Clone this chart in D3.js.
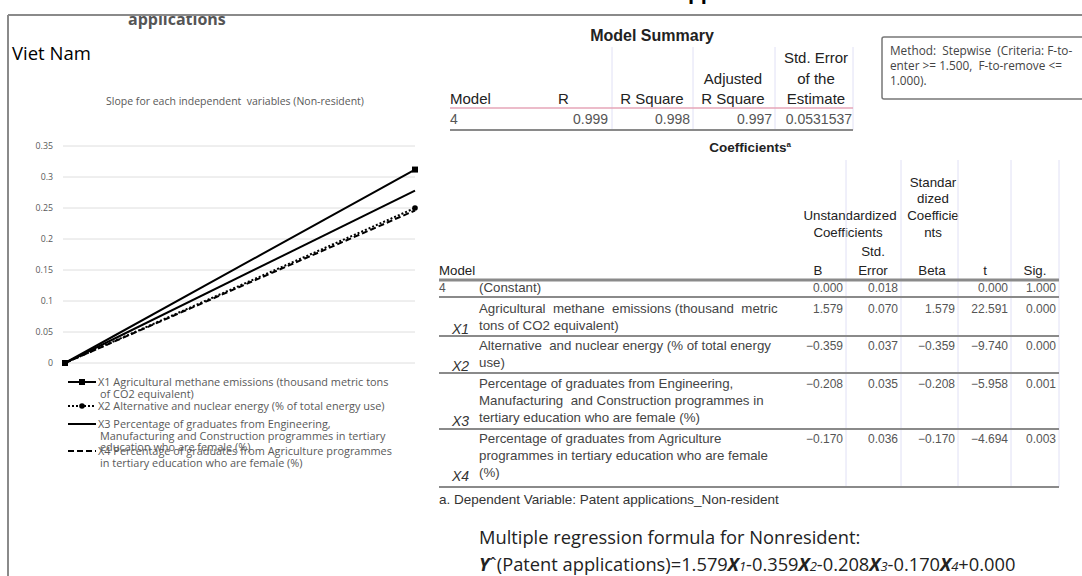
<!DOCTYPE html>
<html><head><meta charset="utf-8">
<script src="https://cdn.jsdelivr.net/npm/d3@7"></script>
<style>body{margin:0;background:#fff}svg{display:block}</style>
</head><body>
<svg id="c" width="1082" height="576"></svg>
<script>
// ---------------- DATA ----------------
const categories = ["start", "end"];
const x1Values = [0, 0.312];
const x2Values = [0, 0.250];
const x3Values = [0, 0.278];
const x4Values = [0, 0.246];
const yTicks = [0, 0.05, 0.1, 0.15, 0.2, 0.25, 0.3, 0.35];
const chartTitle = "Slope for each independent  variables (Non-resident)";
const legendLines = [
  ["X1 Agricultural methane emissions (thousand metric tons", "of CO2 equivalent)"],
  ["X2 Alternative and nuclear energy (% of total energy use)"],
  ["X3 Percentage of graduates from Engineering,", "Manufacturing and Construction programmes in tertiary", "education who are female (%)"],
  ["X4 Percentage of graduates from Agriculture programmes", "in tertiary education who are female (%)"]
];
const summaryHeader = ["Model", "R", "R Square", "Adjusted R Square", "Std. Error of the Estimate"];
const summaryValues = ["4", "0.999", "0.998", "0.997", "0.0531537"];
const methodLines = ["Method:  Stepwise  (Criteria: F-to-", "enter >= 1.500,  F-to-remove <=", "1.000)."];
const coefVarCodes = ["", "X1", "X2", "X3", "X4"];
const coefVarLines = [
  ["(Constant)"],
  ["Agricultural  methane  emissions (thousand  metric", "tons of CO2 equivalent)"],
  ["Alternative  and nuclear energy (% of total energy", "use)"],
  ["Percentage of graduates from Engineering,", "Manufacturing  and Construction programmes in", "tertiary education who are female (%)"],
  ["Percentage of graduates from Agriculture", "programmes in tertiary education who are female", "(%)"]
];
const coefB = ["0.000", "1.579", "\u22120.359", "\u22120.208", "\u22120.170"];
const coefSE = ["0.018", "0.070", "0.037", "0.035", "0.036"];
const coefBeta = ["", "1.579", "\u22120.359", "\u22120.208", "\u22120.170"];
const coefT = ["0.000", "22.591", "\u22129.740", "\u22125.958", "\u22124.694"];
const coefSig = ["1.000", "0.000", "0.000", "0.001", "0.003"];
const footnote = "a. Dependent Variable: Patent applications_Non-resident";
const formulaTitle = "Multiple regression formula for Nonresident:";
const formulaCoefs = ["1.579", "-0.359", "-0.208", "-0.170"];
const formulaConst = "+0.000";

// ---------------- DRAW ----------------
const svg = d3.select("#c");
const CAL = "'Open Sans', 'Noto Sans', sans-serif";
const ARL = "'Liberation Sans', Arial, sans-serif";

svg.append("defs").append("clipPath").attr("id", "below").append("rect")
  .attr("x", 0).attr("y", 16).attr("width", 1082).attr("height", 560);
svg.append("text").attr("x", 128).attr("y", 25).attr("clip-path", "url(#below)")
  .attr("font-family", CAL).attr("font-weight", "bold").attr("font-size", 16)
  .attr("fill", "#555").text("applications");
svg.append("text").attr("x", 676).attr("y", -1)
  .attr("font-family", CAL).attr("font-weight", "bold").attr("font-size", 20)
  .attr("fill", "#000").text("applications");

svg.append("line").attr("x1", 8).attr("x2", 1082).attr("y1", 15).attr("y2", 15)
  .attr("stroke", "#8a8a8a").attr("stroke-width", 2);
svg.append("line").attr("x1", 8).attr("x2", 8).attr("y1", 15).attr("y2", 576)
  .attr("stroke", "#8a8a8a").attr("stroke-width", 2);

svg.append("text").attr("x", 12).attr("y", 60).attr("font-family", CAL)
  .attr("font-size", 18.5).attr("fill", "#000").text("Viet Nam");

// ---- line chart ----
const x = d3.scalePoint().domain(categories).range([65, 415]);
const y = d3.scaleLinear().domain([0, 0.35]).range([363, 146]);

svg.append("text").attr("x", 235).attr("y", 105).attr("text-anchor", "middle")
  .attr("font-family", CAL).attr("font-size", 10.5).attr("fill", "#595959")
  .style("white-space", "pre").text(chartTitle);

const grid = svg.append("g");
grid.selectAll("line").data(yTicks).join("line")
  .attr("x1", 63).attr("x2", 415).attr("y1", d => y(d)).attr("y2", d => y(d))
  .attr("stroke", "#dedede").attr("stroke-width", 1);

const yAxis = svg.append("g").attr("transform", "translate(63,0)")
  .call(d3.axisLeft(y).tickValues(yTicks).tickSize(0).tickPadding(10)
    .tickFormat(d => String(+d.toFixed(2))));
yAxis.select(".domain").remove();
yAxis.selectAll("text").attr("font-family", CAL).attr("font-size", 8.8).attr("fill", "#595959");

const lineGen = d3.line().x((d, i) => x(categories[i])).y(d => y(d));
const series = [
  { vals: x4Values, dash: "6,3" },
  { vals: x2Values, dash: "2,2" },
  { vals: x3Values, dash: null },
  { vals: x1Values, dash: null }
];
series.forEach(s => {
  svg.append("path").attr("d", lineGen(s.vals)).attr("fill", "none")
    .attr("stroke", "#000").attr("stroke-width", 2)
    .attr("stroke-dasharray", s.dash);
});
svg.selectAll(".sq").data(x1Values).join("rect").attr("class", "sq")
  .attr("x", (d, i) => x(categories[i]) - 3).attr("y", d => y(d) - 3)
  .attr("width", 6).attr("height", 6).attr("fill", "#000");
svg.selectAll(".dot").data(x2Values).join("circle").attr("class", "dot")
  .attr("cx", (d, i) => x(categories[i])).attr("cy", d => y(d)).attr("r", 2.8).attr("fill", "#000");

// legend
const legY = [382, 406, 424, 451];
const legStyles = ["sq", "dot", "solid", "dash"];
legendLines.forEach((lines, k) => {
  const yy = legY[k];
  const g = svg.append("g");
  const st = legStyles[k];
  g.append("line").attr("x1", 68).attr("x2", 96).attr("y1", yy).attr("y2", yy)
    .attr("stroke", "#000").attr("stroke-width", 2)
    .attr("stroke-dasharray", st === "dot" ? "2,2" : st === "dash" ? "6,3" : null);
  if (st === "sq") g.append("rect").attr("x", 79).attr("y", yy - 3).attr("width", 6).attr("height", 6).attr("fill", "#000");
  if (st === "dot") g.append("circle").attr("cx", 82).attr("cy", yy).attr("r", 2.8).attr("fill", "#000");
  lines.forEach((t, j) => {
    g.append("text").attr("x", j === 0 ? 98 : 100).attr("y", yy + 4 + j * 11.5)
      .attr("font-family", CAL).attr("font-size", 10.9).attr("fill", "#595959").text(t);
  });
});

// ---- Model Summary ----
const ms = svg.append("g").attr("font-family", ARL).attr("fill", "#222");
ms.append("text").attr("x", 652).attr("y", 41).attr("text-anchor", "middle")
  .attr("font-weight", "bold").attr("font-size", 16).text("Model Summary");
[612, 693, 775, 853].forEach(xx => ms.append("line").attr("x1", xx).attr("x2", xx)
  .attr("y1", 47).attr("y2", 130).attr("stroke", "#e0e0f5").attr("stroke-width", 1));
ms.append("line").attr("x1", 450).attr("x2", 853).attr("y1", 108).attr("y2", 108)
  .attr("stroke", "#e6a6b8").attr("stroke-width", 1.5);
ms.append("line").attr("x1", 450).attr("x2", 853).attr("y1", 130).attr("y2", 130)
  .attr("stroke", "#8a8a8a").attr("stroke-width", 2);
const hs = 15;
ms.append("text").attr("x", 450).attr("y", 104).attr("font-size", hs).text(summaryHeader[0]);
ms.append("text").attr("x", 558).attr("y", 104).attr("font-size", hs).text(summaryHeader[1]);
ms.append("text").attr("x", 652).attr("y", 104).attr("text-anchor", "middle").attr("font-size", hs).text(summaryHeader[2]);
ms.append("text").attr("x", 733).attr("y", 84).attr("text-anchor", "middle").attr("font-size", hs).text("Adjusted");
ms.append("text").attr("x", 733).attr("y", 104).attr("text-anchor", "middle").attr("font-size", hs).text("R Square");
ms.append("text").attr("x", 816).attr("y", 63).attr("text-anchor", "middle").attr("font-size", hs).text("Std. Error");
ms.append("text").attr("x", 816).attr("y", 84).attr("text-anchor", "middle").attr("font-size", hs).text("of the");
ms.append("text").attr("x", 816).attr("y", 104).attr("text-anchor", "middle").attr("font-size", hs).text("Estimate");
const valX = [450, 608, 690, 772, 852];
summaryValues.forEach((v, i) => ms.append("text").attr("x", valX[i]).attr("y", 124)
  .attr("text-anchor", i === 0 ? "start" : "end").attr("font-size", 14).attr("fill", "#555").text(v));

// method box
svg.append("rect").attr("x", 882).attr("y", 37).attr("width", 215).attr("height", 62)
  .attr("fill", "#fff").attr("stroke", "#777").attr("stroke-width", 1.5).attr("rx", 2);
methodLines.forEach((t, i) => svg.append("text").attr("x", 890).attr("y", 55 + i * 15)
  .attr("font-family", CAL).attr("font-size", 11.8).attr("fill", "#444")
  .style("white-space", "pre").text(t));

// ---- Coefficients ----
const ct = svg.append("g").attr("font-family", ARL).attr("fill", "#222");
const title = ct.append("text").attr("x", 750).attr("y", 152).attr("text-anchor", "middle")
  .attr("font-weight", "bold").attr("font-size", 13.5);
title.append("tspan").text("Coefficients");
title.append("tspan").attr("font-size", 8).attr("dy", -5).text("a");

const colR = [846, 901, 958, 1011, 1059];
const tableL = 439, tableR = 1059;
const fs = 13.3;
const hdr = (t, xx, yy, anchor) => ct.append("text").attr("x", xx).attr("y", yy)
  .attr("text-anchor", anchor || "middle").attr("font-size", fs).text(t);
hdr("Standar", 933, 187); hdr("dized", 933, 203); hdr("Coefficie", 933, 220); hdr("nts", 933, 237);
hdr("Unstandardized", 850, 220);
hdr("Coefficients", 848, 237);
hdr("Std.", 873, 256); hdr("Error", 873, 275);
hdr("B", 818, 275); hdr("Beta", 932, 275); hdr("t", 985, 275); hdr("Sig.", 1035, 275);
hdr("Model", tableL, 275, "start");

const rowLineY = [[292], [313, 330], [350, 367], [388, 405, 422], [443, 460, 477]];
const sepY = [280, 297, 336, 373, 429, 487];
colR.forEach(xx => ct.append("line").attr("x1", xx).attr("x2", xx).attr("y1", 160).attr("y2", 487)
  .attr("stroke", "#e0e0f5").attr("stroke-width", 1));
sepY.forEach((yy, i) => ct.append("line").attr("x1", tableL).attr("x2", tableR)
  .attr("y1", yy).attr("y2", yy).attr("stroke", "#8a8a8a").attr("stroke-width", i === 0 ? 3 : 2));

ct.append("text").attr("x", tableL).attr("y", rowLineY[0][0]).attr("font-size", 12).attr("fill", "#555").text("4");
coefVarLines.forEach((lines, r) => {
  lines.forEach((t, j) => ct.append("text").attr("x", 479).attr("y", rowLineY[r][j])
    .attr("font-size", fs).attr("fill", "#444").style("white-space", "pre").text(t));
  if (coefVarCodes[r]) {
    const yy = rowLineY[r][lines.length - 1] + 4;
    ct.append("text").attr("x", 452).attr("y", yy).attr("font-size", 14)
      .attr("font-style", "italic").attr("fill", "#333").text(coefVarCodes[r]);
  }
  const cols = [coefB, coefSE, coefBeta, coefT, coefSig];
  cols.forEach((arr, c) => ct.append("text").attr("x", colR[c] - 3).attr("y", rowLineY[r][0])
    .attr("text-anchor", "end").attr("font-size", 12).attr("fill", "#555").text(arr[r]));
});

ct.append("text").attr("x", tableL).attr("y", 504).attr("font-size", 13.5).attr("fill", "#333").text(footnote);

svg.append("text").attr("x", 479).attr("y", 544).attr("font-family", CAL)
  .attr("font-size", 18.3).attr("fill", "#222").text(formulaTitle);
const f = svg.append("text").attr("x", 479).attr("y", 571).attr("font-family", CAL)
  .attr("font-size", 18.3).attr("fill", "#222");
f.append("tspan").attr("font-weight", "bold").attr("font-style", "italic").text("Y");
f.append("tspan").text("\u02c6(Patent applications)=");
formulaCoefs.forEach((c, i) => {
  f.append("tspan").text(c);
  f.append("tspan").attr("font-weight", "bold").attr("font-style", "italic").text("X");
  f.append("tspan").attr("font-style", "italic").attr("font-size", 13).text(String(i + 1));
});
f.append("tspan").text(formulaConst);
</script>
</body></html>
